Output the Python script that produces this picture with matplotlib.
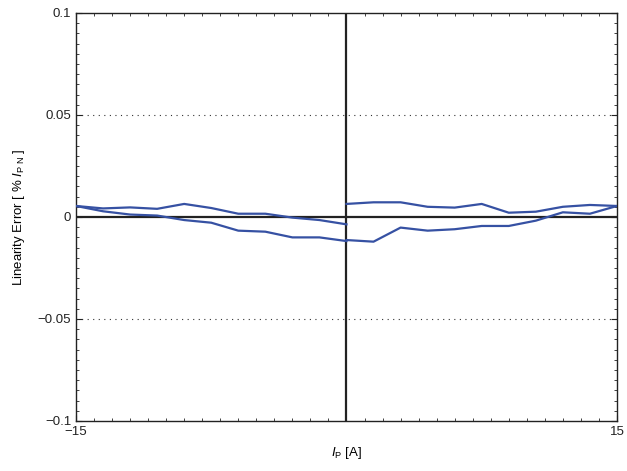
import matplotlib
matplotlib.use('agg')
import matplotlib.pyplot as plt
import matplotlib.ticker as ticker

plt.rcParams['font.family'] = ['Liberation Sans', 'DejaVu Sans']
plt.rcParams['mathtext.fontset'] = 'custom'
plt.rcParams['mathtext.rm'] = 'Liberation Sans'
plt.rcParams['mathtext.it'] = 'Liberation Sans:italic'

# primary current [A], negative and positive halves
x_neg = [-15, -13.5, -12, -10.5, -9, -7.5, -6, -4.5, -3, -1.5, 0]
x_pos = [0, 1.5, 3, 4.5, 6, 7.5, 9, 10.5, 12, 13.5, 15]

# linearity error [% of I_PN]
upper_neg = [0.0054, 0.0042, 0.0047, 0.0040, 0.0064, 0.0044, 0.0016, 0.0016, -0.0003, -0.0015, -0.0036]
lower_neg = [0.0054, 0.0028, 0.0012, 0.0007, -0.0015, -0.0028, -0.0067, -0.0072, -0.0100, -0.0100, -0.0118]
upper_pos = [0.0064, 0.0072, 0.0072, 0.0050, 0.0046, 0.0064, 0.0021, 0.0026, 0.0050, 0.0059, 0.0054]
lower_pos = [-0.0113, -0.0121, -0.0052, -0.0067, -0.0060, -0.0044, -0.0044, -0.0018, 0.0023, 0.0016, 0.0054]

blue = '#3651a3'

fig = plt.figure(figsize=(6.27, 4.71), dpi=100)
ax = fig.add_axes([0.1212, 0.1062, 0.8628, 0.8662])

for yy in [-0.05, 0.05]:
    ax.axhline(yy, color='#333333', lw=0.8, ls=(0, (1, 4)), zorder=1)
ax.axhline(0, color='#222222', lw=1.6, zorder=2)
ax.axvline(0, color='#222222', lw=1.6, zorder=2)

ax.plot(x_neg, upper_neg, color=blue, lw=1.6, zorder=3)
ax.plot(x_neg, lower_neg, color=blue, lw=1.6, zorder=3)
ax.plot(x_pos, upper_pos, color=blue, lw=1.6, zorder=3)
ax.plot(x_pos, lower_pos, color=blue, lw=1.6, zorder=3)

ax.set_xlim(-15, 15)
ax.set_ylim(-0.1, 0.1)
ax.set_xticks([-15, 15])
ax.set_xticklabels(['\u221215', '15'])
ax.set_yticks([-0.1, -0.05, 0, 0.05, 0.1])
ax.set_yticklabels(['\u22120.1', '\u22120.05', '0', '0.05', '0.1'])
ax.xaxis.set_minor_locator(ticker.MultipleLocator(1))
ax.yaxis.set_minor_locator(ticker.MultipleLocator(0.005))
ax.tick_params(which='both', direction='in', top=True, right=True, labelsize=9.5, colors='#222222')
ax.tick_params(which='major', length=4, width=0.8)
ax.tick_params(which='minor', length=2, width=0.6)
for s in ax.spines.values():
    s.set_linewidth(1.0)
    s.set_color('#222222')

ax.set_xlabel(r'$I_{\mathrm{P}}$ [A]', fontsize=9.5, labelpad=5)
ax.set_ylabel(r'Linearity Error [ % $I_{\mathrm{P\ N}}$ ]', fontsize=9.5, labelpad=8)

fig.savefig('out.png', dpi=100)
